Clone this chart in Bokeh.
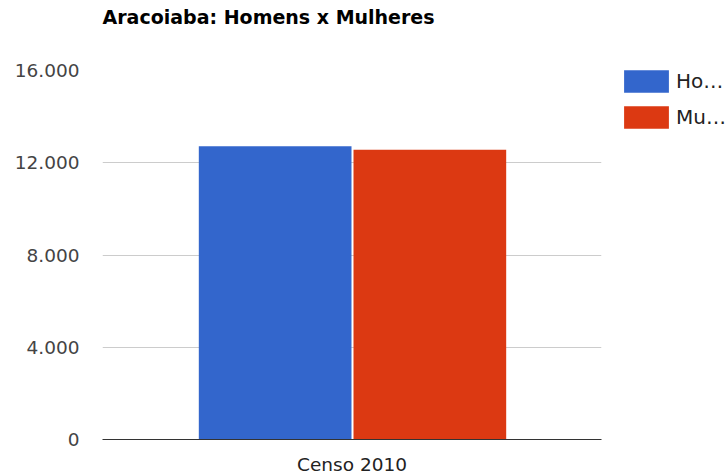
from bokeh.plotting import figure
from bokeh.models import (ColumnDataSource, FixedTicker, Legend, LegendItem, FactorRange,
                          Range1d, Title)
from bokeh.transform import dodge
from bokeh.embed import file_html
from bokeh.resources import INLINE

title_text = "Aracoiaba: Homens x Mulheres"
categories = ["Censo 2010"]
series_names = ["Ho…", "Mu…"]
homens = [12720]
mulheres = [12560]
y_ticks = [0, 4000, 8000, 12000, 16000]
y_tick_labels = ["0", "4.000", "8.000", "12.000", "16.000"]
colors = ["#3366cc", "#dc3912"]

FONT = "DejaVu Sans"

src = ColumnDataSource(dict(cat=categories, homens=homens, mulheres=mulheres))

p = figure(frame_width=499, frame_height=369, x_range=FactorRange(*categories),
           y_range=Range1d(0, 16000), title=None,
           output_backend="svg", toolbar_location=None,
           min_border_left=102, min_border_right=127, min_border_top=70, min_border_bottom=36)

r1 = p.vbar(x=dodge("cat", -0.154, range=p.x_range), top="homens", width=0.306, source=src,
            fill_color=colors[0], line_color=None)
r2 = p.vbar(x=dodge("cat", 0.156, range=p.x_range), top="mulheres", width=0.306, source=src,
            fill_color=colors[1], line_color=None)

# spacer between the plot area and the title (closest to the frame), then the title
spacer = Title(text=".", text_font_size="1px", standoff=40, text_color="#ffffff")
p.add_layout(spacer, "above")
title = Title(text=title_text, text_font=FONT, text_font_size="19px", text_font_style="bold",
              text_color="#000000", align="left", standoff=0)
p.add_layout(title, "above")

p.outline_line_color = None
p.xgrid.grid_line_color = None
p.ygrid.grid_line_color = "#cccccc"
p.ygrid.ticker = FixedTicker(ticks=y_ticks)

p.yaxis.ticker = FixedTicker(ticks=y_ticks)
p.yaxis.major_label_overrides = {t: l for t, l in zip(y_ticks, y_tick_labels)}
p.yaxis.axis_line_color = None
p.yaxis.major_tick_line_color = None
p.yaxis.major_tick_out = 0
p.yaxis.major_tick_in = 0
p.yaxis.minor_tick_line_color = None
p.yaxis.major_label_standoff = 23
p.yaxis.major_label_text_font = FONT
p.yaxis.major_label_text_font_size = "18.5px"
p.yaxis.major_label_text_color = "#444444"

p.xaxis.axis_line_color = "#333333"
p.xaxis.major_tick_line_color = None
p.xaxis.major_tick_out = 0
p.xaxis.major_tick_in = 0
p.xaxis.minor_tick_line_color = None
p.xaxis.major_label_standoff = 14
p.xaxis.major_label_text_font = FONT
p.xaxis.major_label_text_font_size = "18.5px"
p.xaxis.major_label_text_color = "#222222"

legend = Legend(items=[LegendItem(label=series_names[0], renderers=[r1]),
                       LegendItem(label=series_names[1], renderers=[r2])],
                location=(17, 308), glyph_width=56, glyph_height=28, spacing=8,
                label_text_font=FONT, label_text_font_size="20px",
                label_text_color="#222222", label_standoff=2,
                border_line_color=None, background_fill_alpha=0, margin=0, padding=0)
p.add_layout(legend, "right")

open("out.html", "w").write(file_html(p, INLINE))
